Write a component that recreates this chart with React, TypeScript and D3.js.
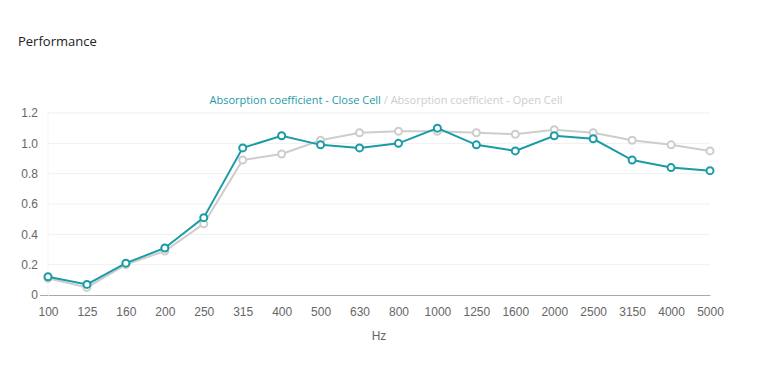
import { useEffect, useRef } from 'react';
import * as d3 from 'd3';

const frequencies = ['100', '125', '160', '200', '250', '315', '400', '500', '630', '800', '1000', '1250', '1600', '2000', '2500', '3150', '4000', '5000'];
const closeCell = [0.12, 0.07, 0.21, 0.31, 0.51, 0.97, 1.05, 0.99, 0.97, 1.0, 1.1, 0.99, 0.95, 1.05, 1.03, 0.89, 0.84, 0.82];
const openCell = [0.11, 0.05, 0.2, 0.29, 0.47, 0.89, 0.93, 1.02, 1.07, 1.08, 1.08, 1.07, 1.06, 1.09, 1.07, 1.02, 0.99, 0.95];
const yTicks = [0, 0.2, 0.4, 0.6, 0.8, 1.0, 1.2];

const TEAL = '#1b9ba6';
const GREY = '#cdcdcd';

export default function App() {
  const svgRef = useRef<SVGSVGElement>(null);

  useEffect(() => {
    document.body.style.margin = '0';
    if (!svgRef.current) return;
    const svg = d3.select(svgRef.current);
    svg.selectAll('*').remove();

    const width = 782;
    const height = 384;
    const margin = { top: 113, right: 72, bottom: 89, left: 48 };
    const chartWidth = width - margin.left - margin.right;
    const chartHeight = height - margin.top - margin.bottom;

    // title
    svg.append('text')
      .attr('x', 18)
      .attr('y', 46)
      .style('font-family', '"Open Sans", sans-serif')
      .style('font-size', '13px')
      .style('fill', '#222')
      .text('Performance');

    // legend
    const legend = svg.append('text')
      .attr('x', 386)
      .attr('y', 104)
      .attr('text-anchor', 'middle')
      .style('font-family', '"Open Sans", sans-serif')
      .style('font-size', '11px');
    legend.append('tspan').style('fill', TEAL).text('Absorption coefficient - Close Cell');
    legend.append('tspan').style('fill', GREY).text(' / Absorption coefficient - Open Cell');

    const g = svg.append('g').attr('transform', `translate(${margin.left},${margin.top})`);

    const x = d3.scalePoint<string>().domain(frequencies).range([0, chartWidth]);
    const y = d3.scaleLinear().domain([0, 1.2]).range([chartHeight, 0]);

    // grid
    g.append('g')
      .selectAll('line')
      .data(yTicks.slice(1))
      .enter()
      .append('line')
      .attr('x1', 0)
      .attr('x2', chartWidth)
      .attr('y1', (d) => y(d))
      .attr('y2', (d) => y(d))
      .style('stroke', '#f0f0f0');

    g.append('line')
      .attr('x1', 0).attr('x2', 0)
      .attr('y1', 0).attr('y2', chartHeight)
      .style('stroke', '#f3f3f3');

    // y axis
    const yAxis = g.append('g')
      .call(d3.axisLeft(y).tickValues(yTicks).tickSize(8).tickPadding(2)
        .tickFormat((d) => (Number(d) === 0 ? '0' : d3.format('.1f')(Number(d)))));
    yAxis.select('.domain').remove();
    yAxis.selectAll('.tick line').style('stroke', (d) => (Number(d) === 0 ? '#aaa' : 'none'));
    yAxis.selectAll('text')
      .style('fill', '#666')
      .style('font-family', '"Liberation Sans", Arial, sans-serif')
      .style('font-size', '12px');

    // x axis
    const xAxis = g.append('g')
      .attr('transform', `translate(0,${chartHeight})`)
      .call(d3.axisBottom(x).tickSize(0).tickPadding(12));
    xAxis.select('.domain').style('stroke', '#aaa');
    xAxis.selectAll('text')
      .style('fill', '#666')
      .style('font-family', '"Liberation Sans", Arial, sans-serif')
      .style('font-size', '12px');

    svg.append('text')
      .attr('x', 379)
      .attr('y', 340)
      .attr('text-anchor', 'middle')
      .style('fill', '#666')
      .style('font-family', '"Liberation Sans", Arial, sans-serif')
      .style('font-size', '12px')
      .text('Hz');

    const line = d3.line<number>()
      .x((_, i) => x(frequencies[i]) as number)
      .y((d) => y(d));

    const series = [
      { values: openCell, color: GREY },
      { values: closeCell, color: TEAL },
    ];

    series.forEach((s) => {
      g.append('path')
        .datum(s.values)
        .attr('fill', 'none')
        .attr('stroke', s.color)
        .attr('stroke-width', 2)
        .attr('d', line);

      g.append('g')
        .selectAll('circle')
        .data(s.values)
        .enter()
        .append('circle')
        .attr('cx', (_, i) => x(frequencies[i]) as number)
        .attr('cy', (d) => y(d))
        .attr('r', 3.5)
        .attr('fill', '#fff')
        .attr('stroke', s.color)
        .attr('stroke-width', 2);
    });
  }, []);

  return <svg ref={svgRef} width={782} height={384} style={{ display: 'block', background: '#fff' }}></svg>;
}
